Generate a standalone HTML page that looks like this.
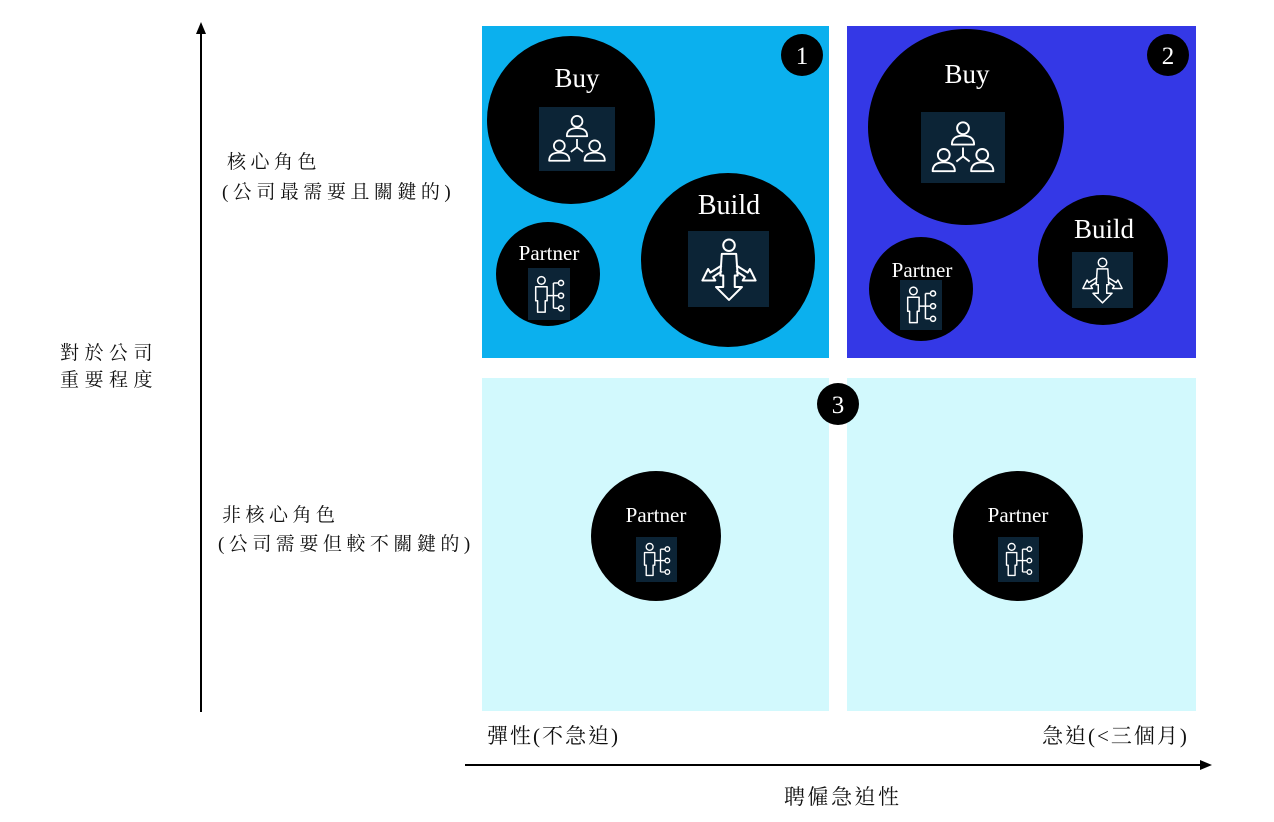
<!DOCTYPE html>
<html><head><meta charset="utf-8"><style>
html,body{margin:0;padding:0;background:#fff;}
svg{display:block}
.cj{font-family:"Liberation Serif","Noto Serif CJK TC","Noto Serif CJK SC",serif;font-size:19px;fill:#111;letter-spacing:4.5px}
.ax{font-size:21px;letter-spacing:2px}
.lb{font-family:"Liberation Serif",serif;fill:#fff}
</style></head><body>
<svg width="1274" height="822" viewBox="0 0 1274 822" xmlns="http://www.w3.org/2000/svg">
<defs>
<symbol id="buy" viewBox="0 0 100 84">
<g fill="none" stroke="#fff" stroke-width="2.6" stroke-linejoin="round">
<circle cx="50" cy="16" r="8"/><path d="M35 38 q0-12 15-12 q15 0 15 12 z"/>
<circle cx="24" cy="52" r="8"/><path d="M9 74 q0-12 15-12 q15 0 15 12 z"/>
<circle cx="76" cy="52" r="8"/><path d="M61 74 q0-12 15-12 q15 0 15 12 z"/>
<path d="M50 42 v12 M50 54 l-9 7 M50 54 l9 7"/>
</g></symbol>
<symbol id="build" viewBox="0 0 100 94">
<g fill="none" stroke="#fff" stroke-width="2.8" stroke-linejoin="round">
<circle cx="50" cy="14" r="8"/>
<path d="M40 26 h20 l2 30 h-4 v16 h10 l-18 18 l-18 -18 h10 v-16 h-4 z"/>
<path d="M40 42 l-16 10 l-3 -5 l-8 16 l18 0 l-3 -5 l12 -8"/>
<path d="M60 42 l16 10 l3 -5 l8 16 l-18 0 l3 -5 l-12 -8"/>
</g></symbol>
<symbol id="partner" viewBox="0 0 60 70">
<g fill="none" stroke="#fff" stroke-width="2.4" stroke-linejoin="round">
<circle cx="18" cy="12" r="6"/>
<path d="M9 22 h18 v22 h-3 v18 h-12 v-18 h-3 z"/>
<path d="M27 36 h10 M37 16 v40 M37 16 h8 M37 36 h8 M37 56 h8"/>
<circle cx="49" cy="16" r="4"/><circle cx="49" cy="36" r="4"/><circle cx="49" cy="56" r="4"/>
</g></symbol>
</defs>

<rect x="482" y="26" width="347" height="332" fill="#0bb0ee"/>
<rect x="847" y="26" width="349" height="332" fill="#3438e6"/>
<rect x="482" y="378" width="347" height="333" fill="#d2f9fd"/>
<rect x="847" y="378" width="349" height="333" fill="#d2f9fd"/>

<circle cx="571" cy="120" r="84" fill="#000"/>
<text class="lb" x="577" y="87" font-size="27" text-anchor="middle">Buy</text>
<rect x="539" y="107" width="76" height="64" fill="#0c2436"/>
<use href="#buy" x="543" y="110" width="68" height="58"/>

<circle cx="728" cy="260" r="87" fill="#000"/>
<text class="lb" x="729" y="214" font-size="28" text-anchor="middle">Build</text>
<rect x="688" y="231" width="81" height="76" fill="#0c2436"/>
<use href="#build" x="693" y="233" width="72" height="72"/>

<circle cx="548" cy="274" r="52" fill="#000"/>
<text class="lb" x="549" y="260" font-size="21" text-anchor="middle">Partner</text>
<rect x="528" y="268" width="42" height="52" fill="#0c2436"/>
<use href="#partner" x="530" y="272" width="38" height="46"/>

<circle cx="802" cy="55" r="21" fill="#000"/>
<text class="lb" x="802" y="64" font-size="25" text-anchor="middle">1</text>

<circle cx="966" cy="127" r="98" fill="#000"/>
<text class="lb" x="967" y="83" font-size="27" text-anchor="middle">Buy</text>
<rect x="921" y="112" width="84" height="71" fill="#0c2436"/>
<use href="#buy" x="926" y="116" width="74" height="63"/>

<circle cx="1103" cy="260" r="65" fill="#000"/>
<text class="lb" x="1104" y="238" font-size="27" text-anchor="middle">Build</text>
<rect x="1072" y="252" width="61" height="56" fill="#0c2436"/>
<use href="#build" x="1076" y="254" width="53" height="52"/>

<circle cx="921" cy="289" r="52" fill="#000"/>
<text class="lb" x="922" y="277" font-size="21" text-anchor="middle">Partner</text>
<rect x="900" y="280" width="42" height="50" fill="#0c2436"/>
<use href="#partner" x="902" y="283" width="38" height="45"/>

<circle cx="1168" cy="55" r="21" fill="#000"/>
<text class="lb" x="1168" y="64" font-size="25" text-anchor="middle">2</text>

<circle cx="656" cy="536" r="65" fill="#000"/>
<text class="lb" x="656" y="522" font-size="21" text-anchor="middle">Partner</text>
<rect x="636" y="537" width="41" height="45" fill="#0c2436"/>
<use href="#partner" x="638" y="540" width="37" height="40"/>

<circle cx="1018" cy="536" r="65" fill="#000"/>
<text class="lb" x="1018" y="522" font-size="21" text-anchor="middle">Partner</text>
<rect x="998" y="537" width="41" height="45" fill="#0c2436"/>
<use href="#partner" x="1000" y="540" width="37" height="40"/>

<circle cx="838" cy="404" r="21" fill="#000"/>
<text class="lb" x="838" y="413" font-size="25" text-anchor="middle">3</text>

<line x1="201" y1="32" x2="201" y2="712" stroke="#000" stroke-width="2"/>
<polygon points="201,22 196,34 206,34" fill="#000"/>
<line x1="465" y1="765" x2="1202" y2="765" stroke="#000" stroke-width="2"/>
<polygon points="1212,765 1200,760 1200,770" fill="#000"/>

<text class="cj" x="227" y="168">核心角色</text>
<text class="cj" x="222" y="198">(公司最需要且關鍵的)</text>
<text class="cj" x="60" y="359" style="letter-spacing:5.5px">對於公司</text>
<text class="cj" x="60" y="386" style="letter-spacing:5.5px">重要程度</text>
<text class="cj" x="222" y="521">非核心角色</text>
<text class="cj" x="218" y="550">(公司需要但較不關鍵的)</text>
<text class="cj ax" x="487" y="743">彈性(不急迫)</text>
<text class="cj ax" x="1042" y="743">急迫(&lt;三個月)</text>
<text class="cj ax" x="784" y="804" style="letter-spacing:2.5px">聘僱急迫性</text>
</svg>
</body></html>
